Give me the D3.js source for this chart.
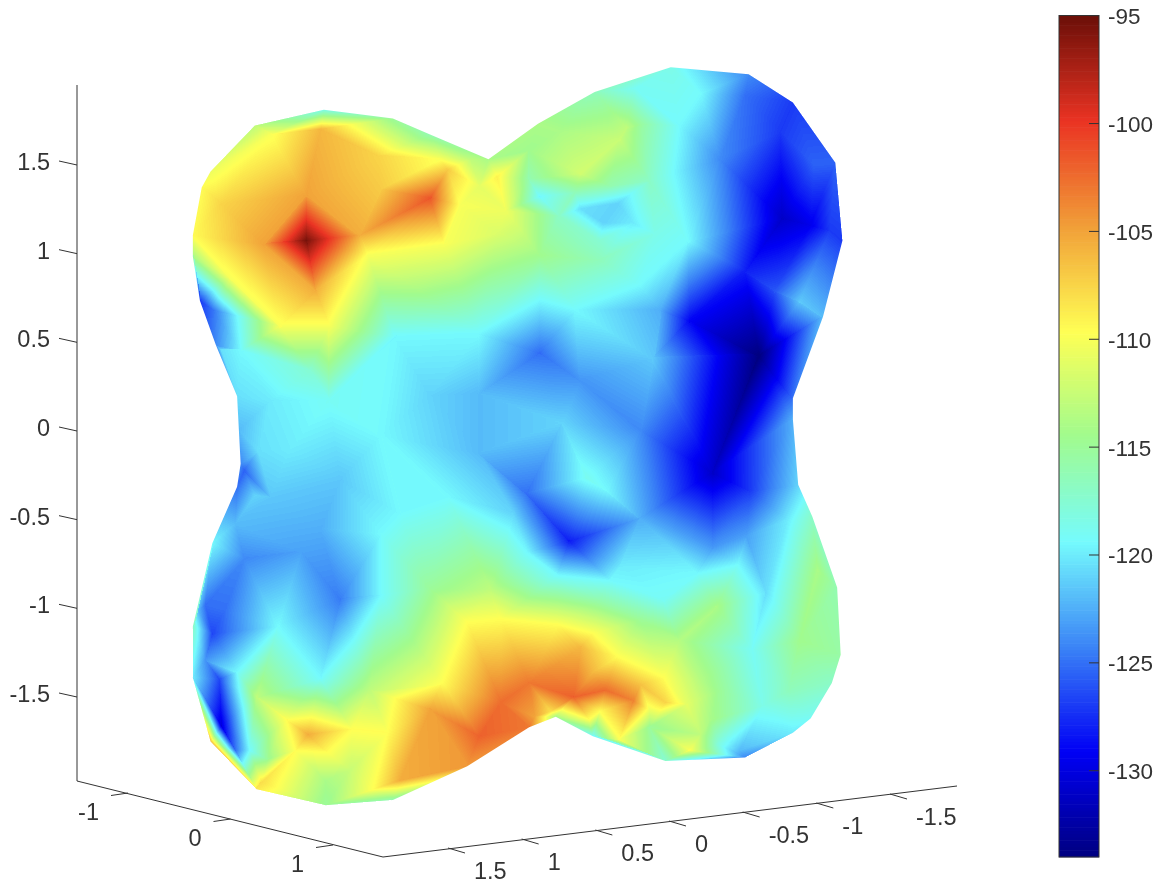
<!DOCTYPE html>
<html><head><meta charset="utf-8">
<script src="https://cdn.jsdelivr.net/npm/d3@7"></script>
<style>html,body{margin:0;padding:0;background:#fff}#c{position:absolute;left:0;top:0}svg{position:absolute;left:0;top:0}text{font-family:"Liberation Sans",Arial,sans-serif;font-size:23.5px;fill:#333}text.cb{font-size:22.5px}</style>
</head><body><canvas id="c" width="1160" height="886"></canvas><svg id="s" width="1160" height="886"></svg>
<script>
// Colour scale
const colorDomain=[-134,-95];
const colorbarTicks=[-95,-100,-105,-110,-115,-120,-125,-130];
const jetStops=[0,0.125,0.25,0.375,0.5,0.625,0.75,0.875,1];
const jetColors=["#000080","#0000f5","#3b84f6","#75fbfd","#a1fb8e","#ffff54","#f19e38","#ea3323","#6b0f08"];
// Axis ticks
const zTicks=[-1.5,-1,-0.5,0,0.5,1,1.5];
const xTicks=[-1,0,1];
const yTicks=[1.5,1,0.5,0,-0.5,-1,-1.5];
// Surface outline, in view-plane units (same unit as the vertical axis)
const rimU=[-1.82,-1.82,-1.78,-1.69,-1.57,-1.56,-1.55,-1.57,-1.71,-1.82,-1.82,-1.72,-1.46,-1.07,-0.69,-0.27,0.08,0.23,0.44,0.85,1.30,1.57,1.67,1.79,1.84,1.82,1.68,1.60,1.57,1.57,1.74,1.85,1.81,1.57,1.32,0.88,0.45,0.13,-0.15,-0.48,-0.69,-1.08,-1.47,-1.72,-1.77];
const rimV=[1.10,0.98,0.73,0.48,0.19,0,-0.19,-0.32,-0.64,-1.11,-1.40,-1.76,-2.03,-2.12,-2.09,-1.90,-1.68,-1.62,-1.73,-1.87,-1.85,-1.71,-1.63,-1.43,-1.27,-0.89,-0.49,-0.31,0.06,0.18,0.64,1.07,1.51,1.85,2.01,2.05,1.91,1.73,1.53,1.67,1.76,1.81,1.72,1.46,1.37];
const rimLevel=[-109.5,-114,-127,-124,-120.5,-122,-124,-125,-119.5,-117,-120,-106,-108.5,-115,-116,-104.5,-103,-114,-119,-117.5,-124,-120,-119,-117,-115.5,-116,-117,-121,-122.5,-125,-122,-127,-125.5,-127,-124,-118.5,-116.5,-114,-114,-116,-115,-118.5,-113,-110.5,-109.5];
// Interior nodes
const nodeU=[-1.18,-1.42,-1.18,-0.88,-1.13,-0.48,-1.10,-0.77,-1.38,-1.66,-1.61,-1.33,-1.05,-0.83,-0.40,-0.31,-0.38,-0.10,-0.76,
-1.55,-0.68,-0.20,0.34,0.71,0.98,0.93,1.05,-0.76,-1.16,-1.38,-0.54,-0.10,0.14,0.48,0.37,0.63,0.72,0.08,0.14,0.58,0.50,0.67,0.79,-0.05,0.76,0.68,
1.30,1.51,1.16,1.30,1.38,1.12,0.82,0.99,1.61,1.47,1.67,1.50,
0.14,-0.20,-0.48,0.37,0.78,0.27,0.71,0.41,0.07,-0.20,-0.38,-0.65,-0.01,0.31,0.71,0.07,0.24,0.54,0.60,0.52,1.12,0.84,1.03,1.26,1.31,1.42,1.54,1.34,1.40,1.71,1.14,0.71,1.33,
-0.27,-0.41,-0.72,-0.80,-0.08,0.24,0.44,0.58,0.84,0.97,-0.20,0.08,0.37,0.44,0.33,-0.08,0.11,-0.48,-0.65,-0.14,-0.48,0.48,1.10,0.76,0.59,0.99,0.42,1.27,
-1.17,-1.29,-0.92,-1.06,-1.24,-1.46,-1.50,-1.58,-1.66,-1.71,-1.57,-1.34,-1.10,-0.76,-0.76,-0.99,-1.21,-1.38,-1.53,-1.58,-1.75,-1.40,-1.43,-1.07,-0.82,-1.53,-1.27,-0.99,
-0.20,-0.42,-0.25,-1.05,-1.10,1.69,1.78,0.25,0.08,0.59,0.54,0.25,0.48,1.05,0.93,1.05,1.16,1.61,1.55,1.16,0.67,0.85,0.20,0.48,0.76,-0.93,-1.67,-1.75,-1.79,-1.45,-1.47,-1.66,-1.71,
0.51,0.71,0.37,0.34,-1.64];
const nodeV=[1.07,1.05,1.33,1.10,0.79,1.31,1.70,1.55,1.67,1.28,0.86,0.59,0.59,0.99,1.05,1.27,1.47,1.43,1.36,
0.45,0.53,0.55,0.68,0.82,1.07,1.72,1.90,-0.03,0.34,0.17,0.79,1.11,0.99,0.96,1.45,1.71,1.73,1.42,1.32,1.28,1.17,1.17,1.11,1.24,1.41,1.93,
1.89,1.20,1.53,0.90,0.42,-0.24,0.68,0.62,0.73,0.79,1.16,1.69,
0.44,0.21,0.20,0.28,0.40,0.04,0,-0.27,-0.36,-0.13,-0.38,-0.47,-0.47,-0.63,-0.50,-0.69,-0.82,-0.85,-0.77,-0.34,-0.66,-0.96,-0.81,-0.76,-0.60,-0.92,-0.51,-1.24,-1.56,-0.79,-1.00,-1.07,-0.34,
-1.09,-1.43,-1.71,-2.03,-1.07,-1.10,-1.15,-1.28,-1.40,-1.55,-1.73,-1.43,-1.23,-1.37,-1.51,-1.54,-1.62,-1.58,-1.98,-0.90,-0.90,-0.96,-1.64,-1.68,-1.75,-1.81,-1.64,-1.81,
-1.72,-1.64,-1.69,-1.82,-1.81,-1.51,-1.81,-1.81,-1.67,-1.15,-1.37,-1.11,-1.40,-0.94,-0.59,-0.96,-0.69,-0.38,-0.23,-0.53,-0.99,-1.86,-1.99,-1.98,-1.47,-0.73,-0.11,-0.28,
1.38,1.53,1.53,0.17,-0.56,1.50,1.13,1.69,1.58,1.64,1.38,1.21,1.07,-1.41,-1.19,-1.72,-1.78,-1.19,-1.47,-1.47,-1.53,-1.54,-1.59,-1.59,-1.58,-1.92,-1.41,-1.30,-1.02,-0.12,-0.37,0.45,0.68,
-1.47,-1.44,1.25,1.34,-1.02];
const nodeLevel=[-95.5,-105,-105,-105.5,-105.5,-101.5,-106,-107.5,-110,-107.5,-110,-110,-110,-110,-110,-110,-107,-109,-107,
-119.4,-119.4,-119.4,-119.4,-119.4,-119.4,-119.4,-119.4,-119.4,-117.5,-120,-114,-111.5,-114.5,-116.5,-112,-113,-115.5,-116,-119.5,-121,-121,-120,-118.5,-110.5,-117,-119,
-125,-131,-124,-128,-134,-131,-122.5,-129,-121.5,-126,-129.5,-127,
-125,-122,-121,-123.5,-121.5,-121,-124,-118.8,-125,-122,-119.4,-119.4,-121,-128,-122.5,-119.5,-119.4,-119.4,-120,-119.5,-123.5,-119,-119.4,-119.4,-123,-120.5,-120,-119,-118.5,-114,-114,-115,-127,
-109.6,-109.6,-109.6,-109.6,-109.6,-109.6,-109.6,-109.6,-109.6,-111,-102,-103,-106,-106,-102,-102.5,-105,-105,-105.5,-113,-115,-116,-114,-115,-110,-110,-110,-122,
-105.5,-109.6,-109.6,-109.6,-109.6,-113,-119.4,-125,-130,-126.5,-119.4,-119.4,-119.4,-119.4,-119.4,-124.5,-123,-121.5,-125.5,-122,-125,-115,-108,-114,-113,-124,-120,-121.5,
-111,-110,-113,-119,-122.5,-125.5,-127,-114,-114.5,-112.5,-116,-117,-117.5,-113.5,-113.5,-113,-118.5,-114.5,-116.5,-115,-103.5,-107.5,-108,-109.6,-110.5,-112.5,-126.5,-123.5,-122,-120.5,-121,-120.5,-125,
-102.5,-106.5,-120.5,-116.5,-125];

const jet=d3.scaleLinear().domain(jetStops).range(jetColors).interpolate(d3.interpolateRgb).clamp(true);
const frac=d3.scaleLinear().domain(colorDomain).range([0,1]).clamp(true);
const palette=d3.range(256).map(i=>d3.rgb(jet((i+0.5)/256)));
const paletteIndex=v=>Math.min(255,Math.floor(frac(v)*256));

// view-plane position scales
const viewX=d3.scaleLinear().domain([0,1]).range([515,692]);
const viewY=d3.scaleLinear().domain([0,1]).range([430,253]);

const U=rimU.concat(nodeU),V=rimV.concat(nodeV),L=rimLevel.concat(nodeLevel);
const px=U.map(u=>viewX(u)),py=V.map(v=>viewY(v));
const del=d3.Delaunay.from(px.map((x,i)=>[x,py[i]]));
const W=1160,H=886;
const off=document.createElement('canvas');off.width=W;off.height=H;
const oc=off.getContext('2d');
const img=oc.createImageData(W,H);
const tri=del.triangles;
for(let t=0;t<tri.length;t+=3){
  const a=tri[t],b=tri[t+1],c=tri[t+2];
  const ax=px[a],ay=py[a],bx=px[b],by=py[b],cx=px[c],cy=py[c];
  const d=(by-cy)*(ax-cx)+(cx-bx)*(ay-cy);
  if(Math.abs(d)<1e-6)continue;
  const x0=Math.floor(Math.min(ax,bx,cx))-1,x1=Math.ceil(Math.max(ax,bx,cx))+1;
  const y0=Math.floor(Math.min(ay,by,cy))-1,y1=Math.ceil(Math.max(ay,by,cy))+1;
  for(let y=y0;y<=y1;y++)for(let x=x0;x<=x1;x++){
    const X=x+0.5,Y=y+0.5;
    const l1=((by-cy)*(X-cx)+(cx-bx)*(Y-cy))/d;
    const l2=((cy-ay)*(X-cx)+(ax-cx)*(Y-cy))/d;
    const l3=1-l1-l2;
    if(l1<-0.02||l2<-0.02||l3<-0.02)continue;
    const v=l1*L[a]+l2*L[b]+l3*L[c];
    const col=palette[paletteIndex(v)];
    const k=(y*W+x)*4;
    img.data[k]=col.r;img.data[k+1]=col.g;img.data[k+2]=col.b;img.data[k+3]=255;
  }
}
oc.putImageData(img,0,0);
const ctx=document.getElementById('c').getContext('2d');
ctx.fillStyle='#fff';ctx.fillRect(0,0,W,H);
ctx.save();ctx.beginPath();
rimU.forEach((u,i)=>{const x=viewX(u),y=viewY(rimV[i]);i?ctx.lineTo(x,y):ctx.moveTo(x,y);});
ctx.closePath();ctx.clip();
ctx.filter='blur(0.6px)';
ctx.drawImage(off,0,0);ctx.restore();

const svg=d3.select('#s');
const ink='#333';
// vertical axis
const zScale=d3.scaleLinear().domain([-1.5,1.5]).range([697,165]);
svg.append('line').attr('x1',77).attr('x2',77).attr('y1',85).attr('y2',781).attr('stroke',ink);
const zG=svg.append('g').selectAll('g').data(zTicks).join('g').attr('transform',d=>`translate(77,${zScale(d)})`);
zG.append('line').attr('x2',-18).attr('y2',-4).attr('stroke',ink);
zG.append('text').attr('x',-27).attr('y',-3).attr('text-anchor','end').attr('dominant-baseline','central').text(d=>d);
// left floor axis
const xPX=d3.scaleLinear().domain([-1,1]).range([128,333]),xPY=d3.scaleLinear().domain([-1,1]).range([793,845]);
svg.append('line').attr('x1',77).attr('y1',781).attr('x2',383).attr('y2',857).attr('stroke',ink);
const xG=svg.append('g').selectAll('g').data(xTicks).join('g').attr('transform',d=>`translate(${xPX(d)},${xPY(d)})`);
xG.append('line').attr('x2',-17).attr('y2',2.5).attr('stroke',ink);
xG.append('text').attr('x',-29).attr('y',19).attr('text-anchor','end').attr('dominant-baseline','central').text(d=>d);
// right floor axis
const yPX=d3.scaleLinear().domain([1.5,-1.5]).range([448,890]),yPY=d3.scaleLinear().domain([1.5,-1.5]).range([848,794]);
svg.append('line').attr('x1',383).attr('y1',857).attr('x2',957).attr('y2',786).attr('stroke',ink);
const yG=svg.append('g').selectAll('g').data(yTicks).join('g').attr('transform',d=>`translate(${yPX(d)},${yPY(d)})`);
yG.append('line').attr('x2',17).attr('y2',5).attr('stroke',ink);
yG.append('text').attr('x',26).attr('y',23).attr('text-anchor','start').attr('dominant-baseline','central').text(d=>d);
// colorbar
const cbY=d3.scaleLinear().domain(colorDomain).range([857,15.7]);
const cbBand=d3.range(256);
svg.append('g').selectAll('rect').data(cbBand).join('rect')
  .attr('x',1059).attr('width',40)
  .attr('y',i=>cbY(colorDomain[0]+(i+1)/256*39)-0.3)
  .attr('height',(857-15.7)/256+0.6)
  .attr('fill',i=>palette[i].formatHex());
svg.append('rect').attr('x',1059).attr('y',15.5).attr('width',40).attr('height',841.5).attr('fill','none').attr('stroke',ink);
const cbG=svg.append('g').selectAll('g').data(colorbarTicks).join('g').attr('transform',d=>`translate(1099,${cbY(d)})`);
cbG.append('line').attr('x2',-10).attr('stroke',ink);
cbG.append('text').attr('class','cb').attr('x',9).attr('y',1).attr('dominant-baseline','central').text(d=>d);
</script></body></html>
